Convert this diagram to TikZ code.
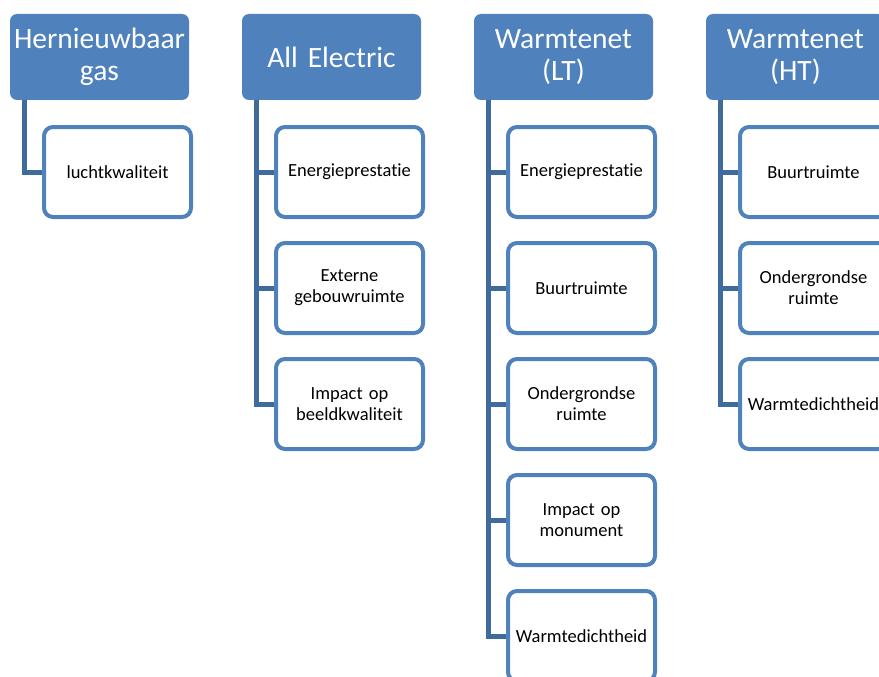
\documentclass[tikz,border=0pt]{standalone}
\usepackage{fontspec}
\setmainfont{Carlito}[Ligatures=NoCommon]
\usetikzlibrary{positioning}

\definecolor{headblue}{HTML}{4F81BD}
\definecolor{linkblue}{HTML}{3F6A9C}

\begin{document}
\begin{tikzpicture}[x=1pt,y=-1pt,
  head/.style={rectangle,rounded corners=7pt,fill=headblue,text=white,minimum width=179pt,minimum height=86pt,inner sep=0pt,align=center,text width=177pt,font=\fontsize{29.5}{32}\selectfont},
  leaf/.style={rectangle,rounded corners=9pt,draw=headblue,line width=4pt,fill=white,minimum width=147pt,minimum height=90pt,inner sep=0pt,align=center,text width=144pt,font=\fontsize{18.5}{21}\selectfont},
  conn/.style={draw=linkblue,line width=5pt}]
  \useasboundingbox (0,0) rectangle (879,677);
  \clip (0,0) rectangle (879,677);

  \node [head] (c1_head) at (99.5,57) {Hernieuwbaar\\gas};
  \node [leaf] (c1_a) at (117.5,172) {luchtkwaliteit};

  \node [head] (c2_head) at (331.5,57) {All Electric};
  \node [leaf] (c2_a) at (349.5,172) {Energieprestatie};
  \node [leaf] (c2_b) at (349.5,288) {Externe\\gebouwruimte};
  \node [leaf] (c2_c) at (349.5,404) {Impact op\\beeldkwaliteit};

  \node [head] (c3_head) at (563.5,57) {Warmtenet\\(LT)};
  \node [leaf] (c3_a) at (581.5,172) {Energieprestatie};
  \node [leaf] (c3_b) at (581.5,288) {Buurtruimte};
  \node [leaf] (c3_c) at (581.5,404) {Ondergrondse\\ruimte};
  \node [leaf] (c3_d) at (581.5,520) {Impact op\\monument};
  \node [leaf] (c3_e) at (581.5,636) {Warmtedichtheid};

  \node [head] (c4_head) at (795.5,57) {Warmtenet\\(HT)};
  \node [leaf] (c4_a) at (813.5,172) {Buurtruimte};
  \node [leaf] (c4_b) at (813.5,288) {Ondergrondse\\ruimte};
  \node [leaf] (c4_c) at (813.5,404) {Warmtedichtheid};

  % connectors
  \draw [conn] ([xshift=15pt]c1_head.south west) |- (c1_a.west);

  \draw [conn] ([xshift=15pt]c2_head.south west) |- (c2_a.west);
  \draw [conn] ([xshift=15pt]c2_head.south west) |- (c2_b.west);
  \draw [conn] ([xshift=15pt]c2_head.south west) |- (c2_c.west);

  \draw [conn] ([xshift=15pt]c3_head.south west) |- (c3_a.west);
  \draw [conn] ([xshift=15pt]c3_head.south west) |- (c3_b.west);
  \draw [conn] ([xshift=15pt]c3_head.south west) |- (c3_c.west);
  \draw [conn] ([xshift=15pt]c3_head.south west) |- (c3_d.west);
  \draw [conn] ([xshift=15pt]c3_head.south west) |- (c3_e.west);

  \draw [conn] ([xshift=15pt]c4_head.south west) |- (c4_a.west);
  \draw [conn] ([xshift=15pt]c4_head.south west) |- (c4_b.west);
  \draw [conn] ([xshift=15pt]c4_head.south west) |- (c4_c.west);
\end{tikzpicture}
\end{document}
